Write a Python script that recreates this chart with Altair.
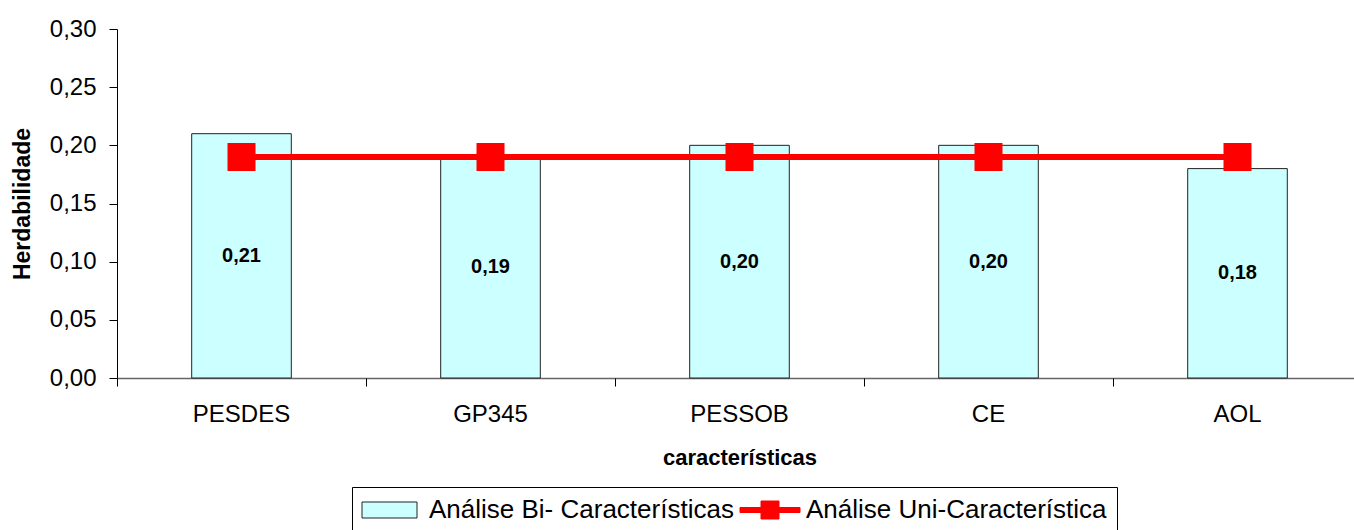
import altair as alt
import pandas as pd

categories = ["PESDES", "GP345", "PESSOB", "CE", "AOL"]
bi_values = [0.21, 0.19, 0.20, 0.20, 0.18]
uni_values = [0.19, 0.19, 0.19, 0.19, 0.19]
series_names = ["Análise Bi- Características", "Análise Uni-Característica"]
y_ticks = [0.0, 0.05, 0.10, 0.15, 0.20, 0.25, 0.30]

FONT = "Liberation Sans"
CYAN = "#CCFFFF"
RED = "#FF0000"

bi_df = pd.DataFrame({"cat": categories, "value": bi_values, "series": series_names[0]})
uni_df = pd.DataFrame({"cat": categories, "value": uni_values, "series": series_names[1]})

x_scale = alt.Scale(domain=categories, paddingInner=0, paddingOuter=0, range=[0, 1245])
y_scale = alt.Scale(domain=[0, 0.30], nice=False, zero=True)

y_axis = alt.Axis(
    values=y_ticks,
    labelExpr="replace(format(datum.value, '.2f'), '.', ',')",
    title="Herdabilidade",
    titleFont=FONT, titleFontSize=23, titleFontWeight="bold", titleColor="#000",
    titlePadding=15,
    labelFont=FONT, labelFontSize=24, labelColor="#000", labelPadding=13,
    tickSize=8, tickColor="#000", domainColor="#000", grid=False,
)
x_label_axis = alt.Axis(
    orient="bottom", title="características",
    titleFont=FONT, titleFontSize=22, titleFontWeight="bold", titleColor="#000",
    titlePadding=21,
    labelFont=FONT, labelFontSize=24, labelColor="#000", labelPadding=24, labelAngle=0,
    ticks=False, domain=True, domainColor="#666", domainWidth=1.5, grid=False,
)
x_tick_axis = alt.Axis(
    orient="bottom", title=None, labels=False, domain=False, grid=False,
    ticks=True, tickSize=8, tickColor="#000", bandPosition=0,
)

path_bi = "M-1.3,-0.8H4.2V0.8H-1.3Z"
path_uni = "M-1.2,-0.25H4.8V0.25H-1.2Z M0.9,-0.9H2.7V0.9H0.9Z"

legend = alt.Legend(
    title=None, orient="none", legendX=235, legendY=458, direction="horizontal",
    labelFont=FONT, labelFontSize=26, labelColor="#000", labelOffset=41, labelLimit=0,
    symbolSize=400, symbolStrokeWidth=1, symbolOpacity=1, columnPadding=4,
    padding=10, strokeColor="#000", fillColor="#FFFFFF", cornerRadius=0,
)
fill_scale = alt.Scale(domain=series_names, range=[CYAN, RED])
stroke_scale = alt.Scale(domain=series_names, range=["#222222", RED])
shape_scale = alt.Scale(domain=series_names, range=[path_bi, path_uni])

bars = alt.Chart(bi_df).mark_bar(width=alt.RelativeBandSize(0.4), strokeWidth=1, opacity=1).encode(
    x=alt.X("cat:N", scale=x_scale, sort=categories, axis=x_label_axis),
    y=alt.Y("value:Q", scale=y_scale, axis=y_axis),
    fill=alt.Fill("series:N", scale=fill_scale, legend=legend),
    stroke=alt.Stroke("series:N", scale=stroke_scale, legend=legend),
)

labels = alt.Chart(bi_df).transform_calculate(
    mid="datum.value / 2",
    txt="replace(format(datum.value, '.2f'), '.', ',')",
).mark_text(font=FONT, fontSize=20, fontWeight="bold", color="#000").encode(
    x=alt.X("cat:N", scale=x_scale, sort=categories, axis=None),
    y=alt.Y("mid:Q", scale=y_scale, axis=y_axis),
    text="txt:N",
)

line = alt.Chart(uni_df).mark_line(color=RED, strokeWidth=6).encode(
    x=alt.X("cat:N", scale=x_scale, sort=categories, axis=x_tick_axis),
    y=alt.Y("value:Q", scale=y_scale, axis=y_axis),
)

points = alt.Chart(uni_df).mark_square(size=676, opacity=1, filled=True).encode(
    x=alt.X("cat:N", scale=x_scale, sort=categories, axis=None),
    y=alt.Y("value:Q", scale=y_scale, axis=y_axis),
    fill=alt.Fill("series:N", scale=fill_scale, legend=legend),
    stroke=alt.Stroke("series:N", scale=stroke_scale, legend=legend),
)

# legend-only layer: carries the shape channel for the legend symbols, draws no marks
legend_layer = alt.Chart(uni_df).transform_filter("false").mark_point(filled=True, opacity=1).encode(
    x=alt.X("cat:N", scale=x_scale, sort=categories, axis=None),
    y=alt.Y("value:Q", scale=y_scale, axis=y_axis),
    fill=alt.Fill("series:N", scale=fill_scale, legend=legend),
    stroke=alt.Stroke("series:N", scale=stroke_scale, legend=legend),
    shape=alt.Shape("series:N", scale=shape_scale, legend=legend),
)

chart = alt.layer(bars, labels, line, points, legend_layer).resolve_axis(x="independent").properties(
    width=1237, height=349, autosize="none", background="#FFFFFF",
    padding={"left": 117, "top": 29, "right": 0, "bottom": 152},
).configure_view(stroke=None)

chart.save("out.html", embed_options={"renderer": "svg", "actions": False})
